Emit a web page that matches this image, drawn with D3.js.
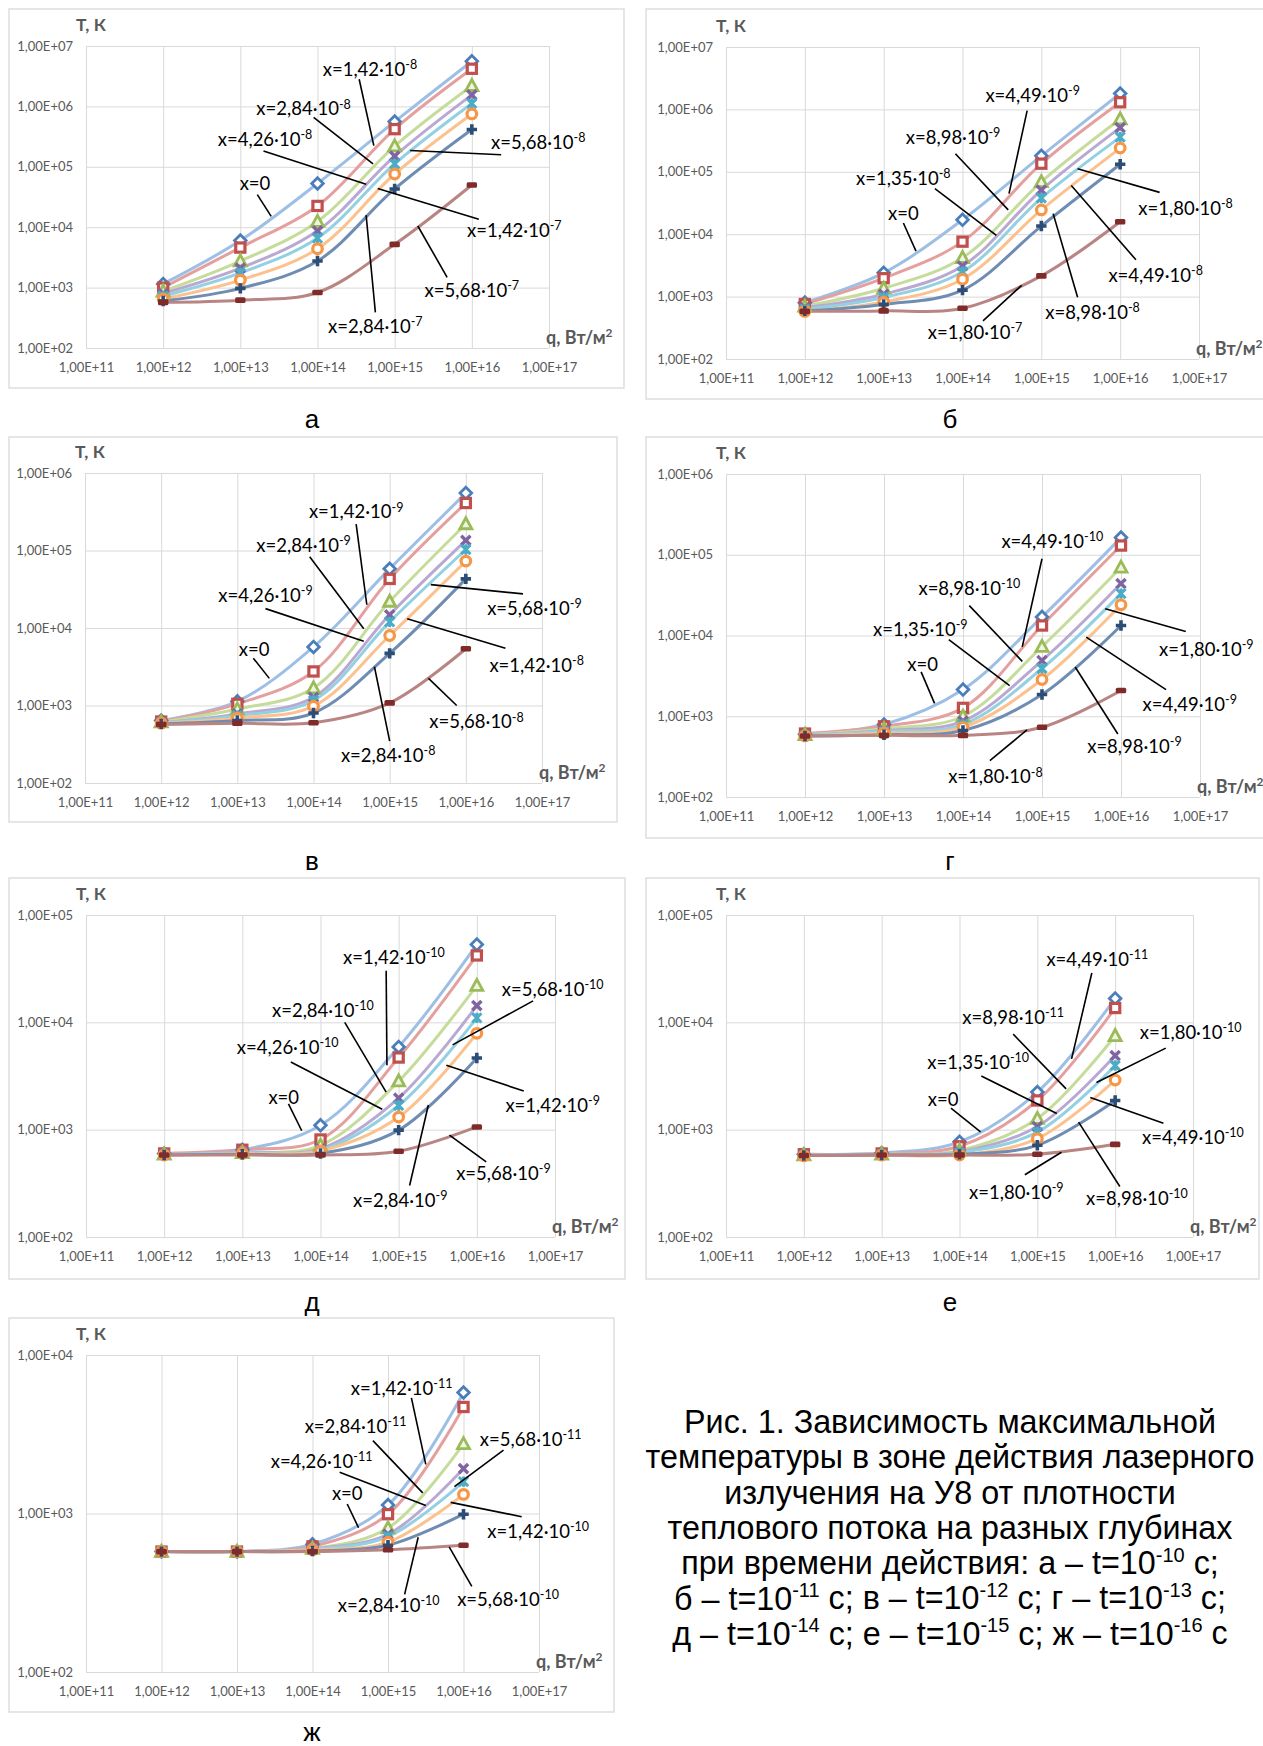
<!DOCTYPE html>
<html><head><meta charset="utf-8">
<script src="https://cdn.jsdelivr.net/npm/d3@7"></script>
<style>body{margin:0;background:#fff}svg{display:block}</style>
</head><body>
<svg id="c" width="1263" height="1746"></svg>
<script>
// ---------------- DATA ----------------
const qValues = [1e12, 1e13, 1e14, 1e15, 1e16];
const xTickValues = [1e11, 1e12, 1e13, 1e14, 1e15, 1e16, 1e17];
const xTickLabels = ["1,00E+11","1,00E+12","1,00E+13","1,00E+14","1,00E+15","1,00E+16","1,00E+17"];
const yTickLabels7 = ["1,00E+02","1,00E+03","1,00E+04","1,00E+05","1,00E+06","1,00E+07"];
const yTickLabels6 = ["1,00E+02","1,00E+03","1,00E+04","1,00E+05","1,00E+06"];
const yTickLabels5 = ["1,00E+02","1,00E+03","1,00E+04","1,00E+05"];
const yTickLabels4 = ["1,00E+02","1,00E+03","1,00E+04"];

// panel а, t = 1e-10 s
const labels_a = ["x=0","x=1,42·10|-8","x=2,84·10|-8","x=4,26·10|-8","x=5,68·10|-8","x=1,42·10|-7","x=2,84·10|-7","x=5,68·10|-7"];
const T_a = [
  [1150, 6000, 53000, 560000, 5.6e6],
  [1000, 4600, 22500, 420000, 4.2e6],
  [870, 2750, 12400, 220000, 2.2e6],
  [800, 2100, 8700, 150000, 1.55e6],
  [720, 1750, 6600, 112000, 1.12e6],
  [650, 1330, 4400, 76000, 750000],
  [600, 970, 2750, 43000, 415000],
  [570, 620, 830, 5200, 50000]
];
// panel б, t = 1e-11 s
const labels_b = ["x=0","x=4,49·10|-9","x=8,98·10|-9","x=1,35·10|-8","x=1,80·10|-8","x=4,49·10|-8","x=8,98·10|-8","x=1,80·10|-7"];
const T_b = [
  [800, 2400, 17000, 180000, 1.8e6],
  [760, 1970, 7600, 135000, 1.3e6],
  [700, 1360, 4200, 69000, 700000],
  [660, 1090, 3100, 51000, 510000],
  [630, 970, 2500, 38000, 360000],
  [580, 820, 1900, 24500, 240000],
  [590, 750, 1270, 13500, 132000],
  [580, 590, 650, 2150, 15800]
];
// panel в, t = 1e-12 s
const labels_v = ["x=0","x=1,42·10|-9","x=2,84·10|-9","x=4,26·10|-9","x=5,68·10|-9","x=1,42·10|-8","x=2,84·10|-8","x=5,68·10|-8"];
const T_v = [
  [640, 1130, 5700, 58000, 550000],
  [620, 1050, 2750, 43000, 410000],
  [610, 900, 1680, 22000, 220000],
  [600, 780, 1280, 14800, 135000],
  [600, 740, 1160, 12000, 103000],
  [590, 690, 980, 8000, 73000],
  [580, 640, 800, 4700, 43000],
  [570, 590, 600, 1080, 5400]
];
// panel г, t = 1e-13 s
const labels_g = ["x=0","x=4,49·10|-10","x=8,98·10|-10","x=1,35·10|-9","x=1,80·10|-9","x=4,49·10|-9","x=8,98·10|-9","x=1,80·10|-8"];
const T_g = [
  [600, 790, 2140, 17000, 163000],
  [610, 750, 1270, 13300, 130000],
  [590, 700, 1000, 7300, 70000],
  [580, 665, 870, 4900, 44000],
  [580, 650, 790, 3900, 33000],
  [570, 620, 730, 2850, 24000],
  [570, 590, 665, 1860, 13300],
  [570, 580, 580, 730, 2080]
];
// panel д, t = 1e-14 s
const labels_d = ["x=0","x=1,42·10|-10","x=2,84·10|-10","x=4,26·10|-10","x=5,68·10|-10","x=1,42·10|-9","x=2,84·10|-9","x=5,68·10|-9"];
const T_d = [
  [600, 650, 1100, 5900, 53000],
  [600, 650, 810, 4700, 42000],
  [590, 610, 715, 2830, 22000],
  [590, 620, 665, 1970, 14300],
  [585, 610, 645, 1680, 11000],
  [580, 600, 635, 1310, 7900],
  [580, 590, 600, 990, 4650],
  [580, 580, 580, 630, 1060]
];
// panel е, t = 1e-15 s
const labels_e = ["x=0","x=4,49·10|-11","x=8,98·10|-11","x=1,35·10|-10","x=1,80·10|-10","x=4,49·10|-10","x=8,98·10|-10","x=1,80·10|-9"];
const T_e = [
  [590, 605, 770, 2240, 16700],
  [590, 600, 700, 1870, 13600],
  [580, 590, 640, 1270, 7500],
  [580, 590, 620, 1070, 4900],
  [575, 585, 610, 950, 3960],
  [570, 580, 580, 825, 2900],
  [575, 580, 590, 715, 1870],
  [575, 580, 580, 590, 730]
];
// panel ж, t = 1e-16 s
const labels_zh = ["x=0","x=1,42·10|-11","x=2,84·10|-11","x=4,26·10|-11","x=5,68·10|-11","x=1,42·10|-10","x=2,84·10|-10","x=5,68·10|-10"];
const T_zh = [
  [575, 575, 640, 1130, 5800],
  [575, 575, 620, 990, 4700],
  [575, 575, 600, 810, 2750],
  [575, 575, 600, 740, 1920],
  [575, 575, 595, 715, 1590],
  [575, 575, 590, 660, 1320],
  [575, 575, 580, 630, 990],
  [575, 575, 575, 590, 630]
];

const captionLines = [
  "Рис. 1. Зависимость максимальной",
  "температуры в зоне действия лазерного",
  "излучения на У8 от плотности",
  "теплового потока на разных глубинах",
  "при времени действия: а – t=10|-10| с;",
  "б – t=10|-11| с; в – t=10|-12| с; г – t=10|-13| с;",
  "д – t=10|-14| с; е – t=10|-15| с; ж – t=10|-16| с"
];

// ---------------- LAYOUT / STYLE ----------------
// annotation placement: [textX, textY, lineX1, lineY1, lineX2, lineY2] in decades (log10 q, log10 T)
const ann_a = [[13.19,4.73,13.22,4.54,13.40,4.18],[14.68,6.62,14.54,6.45,14.73,5.35],[13.82,5.96,13.95,5.82,14.72,5.05],[13.32,5.46,13.30,5.26,14.63,4.71],[16.86,5.41,16.38,5.20,15.20,5.27],[16.55,3.95,16.09,4.13,14.78,4.64],[14.75,2.36,14.75,2.59,14.63,4.20],[16.0,2.96,15.68,3.17,15.30,4.02]];
const ann_b = [[13.25,4.33,13.25,4.18,13.41,3.73],[14.89,6.22,14.82,5.98,14.59,4.65],[13.88,5.56,13.91,5.29,14.58,4.39],[13.25,4.89,13.65,4.73,14.43,3.98],[16.83,4.41,16.50,4.67,15.46,5.05],[16.45,3.34,16.20,3.59,15.38,4.78],[15.65,2.75,15.46,2.99,15.15,4.33],[14.16,2.43,14.26,2.61,14.75,3.18]];
const ann_v = [[13.22,3.72,13.21,3.61,13.42,3.35],[14.56,5.50,14.56,5.34,14.70,4.30],[13.87,5.07,13.95,4.92,14.66,3.99],[13.37,4.42,13.37,4.25,14.66,3.83],[16.90,4.25,16.75,4.44,15.54,4.56],[16.93,3.52,16.52,3.74,15.23,4.12],[14.98,2.36,15.0,2.54,14.80,3.50],[16.14,2.79,15.88,3.0,15.51,3.35]];
const ann_g = [[13.49,3.64,13.47,3.55,13.64,3.16],[15.13,5.17,15.0,4.95,14.75,3.86],[14.08,4.59,14.08,4.37,14.75,3.68],[13.46,4.08,13.82,3.95,14.59,3.38],[17.08,3.83,16.82,4.05,15.80,4.33],[16.87,3.15,16.57,3.33,15.56,3.98],[16.17,2.63,15.96,2.78,15.42,3.61],[14.41,2.25,14.34,2.45,14.81,2.83]];
const ann_d = [[13.53,3.30,13.59,3.24,13.76,2.99],[14.94,4.61,14.84,4.48,14.85,3.60],[14.03,4.11,14.31,4.0,14.84,3.35],[13.58,3.77,13.62,3.63,14.79,3.19],[16.97,4.31,16.72,4.20,15.69,3.79],[16.97,3.23,16.60,3.36,15.61,3.60],[15.02,2.34,15.14,2.48,15.38,3.23],[16.34,2.59,16.12,2.70,15.65,2.95]];
const ann_e = [[13.79,3.28,13.89,3.20,14.27,2.98],[15.77,4.59,15.70,4.46,15.44,3.66],[14.69,4.05,14.69,3.89,15.37,3.38],[14.24,3.63,14.28,3.50,15.25,3.15],[16.97,3.91,16.65,3.76,15.76,3.44],[17.0,2.93,16.62,3.06,15.68,3.30],[16.28,2.36,16.06,2.47,15.53,3.07],[14.73,2.42,14.84,2.58,15.31,2.79]];
const ann_zh = [[14.46,3.13,14.46,3.06,14.61,2.91],[15.18,3.79,15.31,3.73,15.50,3.31],[14.57,3.55,14.80,3.46,15.46,3.13],[14.12,3.33,14.36,3.26,15.50,3.05],[16.89,3.47,16.53,3.40,15.88,3.17],[16.99,2.89,16.77,2.98,15.83,3.07],[15.01,2.42,15.22,2.49,15.40,2.85],[16.59,2.46,16.11,2.54,15.81,2.79]];

const panels = [
  {letter:"а", T:T_a, labels:labels_a, yt:yTickLabels7, frame:[9,9,624,388],    plot:[86,46,549,348],    lp:[312,428],  ann:ann_a},
  {letter:"б", T:T_b, labels:labels_b, yt:yTickLabels7, frame:[646,9,1275,399], plot:[726,47,1199,359],  lp:[950,428],  ann:ann_b},
  {letter:"в", T:T_v, labels:labels_v, yt:yTickLabels6, frame:[9,437,617,822],  plot:[85,473,542,783],   lp:[312,870],  ann:ann_v},
  {letter:"г", T:T_g, labels:labels_g, yt:yTickLabels6, frame:[646,437,1275,838],plot:[726,474,1200,797], lp:[950,870],  ann:ann_g},
  {letter:"д", T:T_d, labels:labels_d, yt:yTickLabels5, frame:[9,878,625,1279], plot:[86,915,555,1237],  lp:[312,1311], ann:ann_d},
  {letter:"е", T:T_e, labels:labels_e, yt:yTickLabels5, frame:[646,878,1259,1279],plot:[726,915,1193,1237],lp:[950,1311], ann:ann_e},
  {letter:"ж", T:T_zh, labels:labels_zh, yt:yTickLabels4, frame:[9,1318,614,1712],plot:[86,1355,539,1672],lp:[312,1741], ann:ann_zh}
];

const markerColors = ["#4a7ebb","#c0504d","#9bbb59","#8064a2","#4bacc6","#f79646","#2c4d75","#7f2b2a"];
const lineColors   = ["#9dbfe6","#e4a09e","#c6dc9c","#b9a9d2","#92d0e2","#fbc18e","#6f8cb3","#b98583"];
const markerTypes  = ["diamond","square","triangle","x","star","circle","plus","dash"];

const chartFont = "Lato, 'Open Sans', sans-serif";
const captionFont = "'Liberation Sans', Arial, sans-serif";

const svg = d3.select("#c");

function drawMarker(g, type, color) {
  switch (type) {
    case "diamond":
      g.append("path").attr("d","M0,-5.8L5.8,0L0,5.8L-5.8,0Z").attr("fill","#fff").attr("stroke",color).attr("stroke-width",2.8); break;
    case "square":
      g.append("rect").attr("x",-4.6).attr("y",-4.6).attr("width",9.2).attr("height",9.2).attr("fill","#fff").attr("stroke",color).attr("stroke-width",3.2); break;
    case "triangle":
      g.append("path").attr("d","M0,-6.2L6,4.8L-6,4.8Z").attr("fill","#eef4df").attr("stroke",color).attr("stroke-width",2.8); break;
    case "x":
      g.append("path").attr("d","M-4.6,-4.6L4.6,4.6M4.6,-4.6L-4.6,4.6").attr("stroke",color).attr("stroke-width",3.4); break;
    case "star":
      g.append("path").attr("d","M-4.6,-4.6L4.6,4.6M4.6,-4.6L-4.6,4.6M0,-5.2L0,5.2").attr("stroke",color).attr("stroke-width",3); break;
    case "circle":
      g.append("circle").attr("r",4.8).attr("fill","#fff").attr("stroke",color).attr("stroke-width",3.2); break;
    case "plus":
      g.append("path").attr("d","M-5.2,0L5.2,0M0,-5.2L0,5.2").attr("stroke",color).attr("stroke-width",3.6); break;
    case "dash":
      g.append("rect").attr("x",-5.2).attr("y",-2.8).attr("width",10.4).attr("height",5.6).attr("rx",1.5).attr("fill",color); break;
  }
}

function addSupText(sel, str, supSize) {
  const parts = str.split("|");
  sel.append("tspan").text(parts[0]);
  if (parts.length > 1) {
    sel.append("tspan").attr("font-size", supSize).attr("dy", "-0.55em").text(parts[1]);
  }
}

panels.forEach(p => {
  const [l, t, r, b] = p.plot;
  const yMax = Math.pow(10, p.yt.length + 1);
  const yVals = p.yt.map((d, i) => Math.pow(10, i + 2));
  const x = d3.scaleLog().domain([1e11, 1e17]).range([l, r]);
  const y = d3.scaleLog().domain([1e2, yMax]).range([b, t]);
  const g = svg.append("g");

  // frame
  const [fx0, fy0, fx1, fy1] = p.frame;
  g.append("rect").attr("x", fx0).attr("y", fy0).attr("width", fx1 - fx0).attr("height", fy1 - fy0)
    .attr("fill", "#fff").attr("stroke", "#d9d9d9").attr("stroke-width", 1.3);

  // grid + tick labels via axes
  const gx = g.append("g").attr("transform", `translate(0,${b})`)
    .call(d3.axisBottom(x).tickValues(xTickValues).tickFormat((d, i) => xTickLabels[i]).tickSize(-(b - t)).tickPadding(15));
  const gy = g.append("g").attr("transform", `translate(${l},0)`)
    .call(d3.axisLeft(y).tickValues(yVals).tickFormat((d, i) => p.yt[i]).tickSize(-(r - l)).tickPadding(13));
  [gx, gy].forEach(ax => {
    ax.select(".domain").remove();
    ax.selectAll(".tick line").attr("stroke", "#d9d9d9").attr("stroke-width", 1);
    ax.selectAll(".tick text").attr("fill", "#595959").attr("font-family", chartFont).attr("font-size", 13);
  });

  // axis titles
  g.append("text").attr("x", l - 10).attr("y", t - 15).attr("font-family", chartFont).attr("font-weight", "bold")
    .attr("font-size", 17.5).attr("fill", "#595959").text("T, К");
  const qt = g.append("text").attr("x", r - 3).attr("y", b - 4).attr("font-family", chartFont).attr("font-weight", "bold")
    .attr("font-size", 18).attr("fill", "#595959");
  qt.append("tspan").text("q, Вт/м");
  qt.append("tspan").attr("font-size", 12).attr("dy", "-0.6em").text("2");

  // lines
  const line = d3.line().x((d, i) => x(qValues[i])).y(d => y(d)).curve(d3.curveCatmullRom.alpha(0.5));
  p.T.forEach((s, k) => {
    g.append("path").attr("d", line(s)).attr("fill", "none").attr("stroke", lineColors[k]).attr("stroke-width", 3)
      .attr("stroke-linejoin", "round");
  });
  // markers
  p.T.forEach((s, k) => {
    s.forEach((v, i) => {
      const mg = g.append("g").attr("transform", `translate(${x(qValues[i])},${y(v)})`);
      drawMarker(mg, markerTypes[k], markerColors[k]);
    });
  });

  // annotations
  p.ann.forEach((a, k) => {
    const [tx, ty, x1, y1, x2, y2] = a;
    g.append("line").attr("x1", x(Math.pow(10, x1))).attr("y1", y(Math.pow(10, y1)))
      .attr("x2", x(Math.pow(10, x2))).attr("y2", y(Math.pow(10, y2)))
      .attr("stroke", "#000").attr("stroke-width", 1.6);
    const txt = g.append("text").attr("x", x(Math.pow(10, tx))).attr("y", y(Math.pow(10, ty))).attr("dy", "0.36em")
      .attr("text-anchor", "middle").attr("font-family", chartFont).attr("font-size", 18.5).attr("fill", "#000");
    addSupText(txt, p.labels[k], 12.5);
  });

  // panel letter
  svg.append("text").attr("x", p.lp[0]).attr("y", p.lp[1]).attr("text-anchor", "middle")
    .attr("font-family", captionFont).attr("font-size", 26).attr("fill", "#000").text(p.letter);
});

// caption
captionLines.forEach((ln, i) => {
  const tx = svg.append("text").attr("x", 950).attr("y", 1433 + i * 35.3).attr("text-anchor", "middle")
    .attr("font-family", captionFont).attr("font-size", 32.3).attr("fill", "#000");
  const parts = ln.split("|");
  parts.forEach((pt, j) => {
    if (j % 2 === 1) {
      tx.append("tspan").attr("font-size", 20).attr("dy", "-0.62em").text(pt);
    } else {
      const ts = tx.append("tspan").text(pt);
      if (j > 0) ts.attr("dy", "0.38em");
    }
  });
});
</script>
</body></html>
